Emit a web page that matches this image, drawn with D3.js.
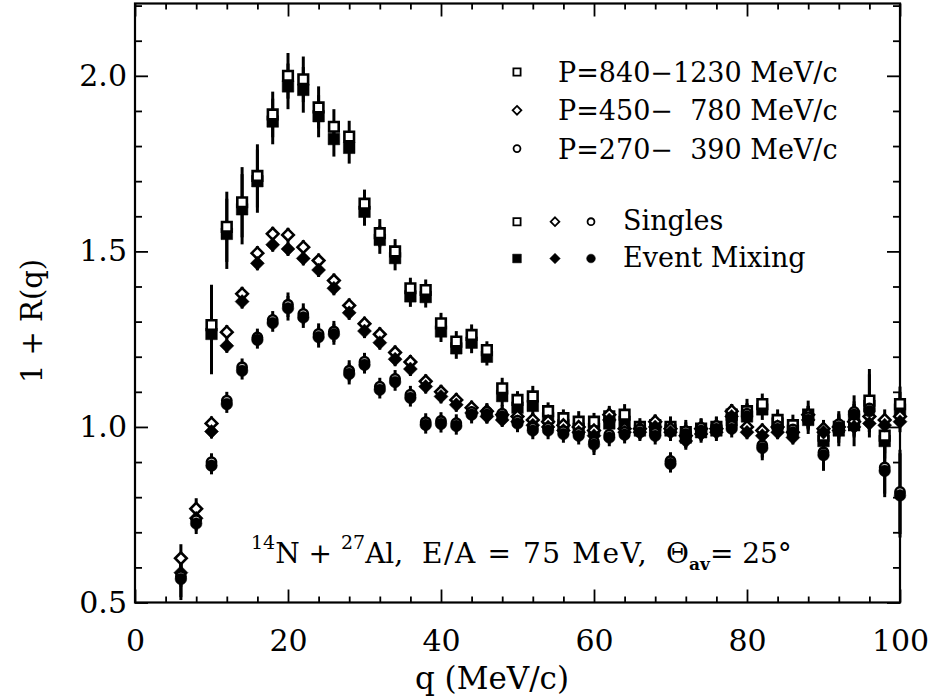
<!DOCTYPE html>
<html>
<head>
<meta charset="utf-8">
<script src="https://cdn.jsdelivr.net/npm/d3@7"></script>
<style>
  body { margin: 0; background: #fff; }
  text { font-family: "DejaVu Serif", serif; fill: #000; }
</style>
</head>
<body>
<div id="chart"></div>
<script>
// q bins (MeV/c)
const qValues = [6, 8, 10, 12, 14, 16, 18, 20, 22, 24, 26, 28, 30, 32, 34, 36, 38, 40, 42, 44, 46, 48, 50, 52,
                 54, 56, 58, 60, 62, 64, 66, 68, 70, 72, 74, 76, 78, 80, 82, 84, 86, 88, 90, 92, 94, 96, 98, 100];

// P = 840-1230 MeV/c (squares)
const squareSingles = [null, null, 1.29, 1.57, 1.64, 1.715, 1.89, 2.00, 1.99, 1.91, 1.855, 1.827, 1.636, 1.552, 1.50, 1.395, 1.39, 1.295, 1.243, 1.262, 1.219, 1.11, 1.077, 1.087,
                       1.045, 1.025, 1.015, 1.015, 1.03, 1.035, 1.0, 1.005, 1.0, 0.985, 0.995, 1.0, 1.035, 1.045, 1.065, 1.02, 1.005, 1.035, 0.975, 1.0, 1.005, 1.075, 0.975, 1.065];
const squareMixing = [null, null, 1.265, 1.55, 1.62, 1.70, 1.87, 1.97, 1.96, 1.885, 1.82, 1.795, 1.613, 1.533, 1.481, 1.372, 1.37, 1.272, 1.224, 1.24, 1.20, 1.088, 1.055, 1.06,
                      1.025, 1.005, 0.995, 0.995, 1.01, 1.015, 0.99, 0.99, 0.99, 0.97, 0.985, 0.99, 1.02, 1.03, 1.05, 1.01, 0.99, 1.02, 0.96, 0.99, 1.03, 1.06, 0.96, 1.05];
const squareErr = [null, null, 0.115, 0.10, 0.10, 0.09, 0.065, 0.065, 0.065, 0.06, 0.05, 0.045, 0.04, 0.04, 0.035, 0.03, 0.03, 0.03, 0.03, 0.03, 0.025, 0.03, 0.025, 0.03,
                   0.025, 0.025, 0.03, 0.025, 0.03, 0.03, 0.025, 0.03, 0.03, 0.035, 0.03, 0.03, 0.03, 0.035, 0.03, 0.03, 0.03, 0.04, 0.04, 0.045, 0.06, 0.09, 0.05, 0.05];

// P = 450-780 MeV/c (diamonds)
const diamondSingles = [0.626, 0.767, 1.01, 1.27, 1.379, 1.495, 1.55, 1.547, 1.512, 1.474, 1.417, 1.346, 1.294, 1.264, 1.212, 1.185, 1.13, 1.10, 1.077, 1.055, 1.045, 1.035, 1.03, 1.02,
                        1.015, 1.005, 1.0, 0.99, 1.035, 0.995, 0.995, 1.015, 0.995, 0.975, 0.995, 0.995, 1.045, 1.0, 0.99, 1.0, 0.985, 1.035, 0.995, 1.0, 1.015, 1.03, 1.02, 1.03];
const diamondMixing = [0.585, 0.74, 0.987, 1.231, 1.357, 1.466, 1.519, 1.507, 1.48, 1.447, 1.395, 1.325, 1.273, 1.24, 1.193, 1.165, 1.115, 1.087, 1.063, 1.04, 1.03, 1.02, 1.015, 1.005,
                       1.0, 0.99, 0.985, 0.975, 1.02, 0.985, 0.985, 1.0, 0.985, 0.96, 0.98, 0.985, 1.03, 0.985, 0.975, 0.985, 0.97, 1.02, 0.985, 0.99, 1.0, 1.01, 1.005, 1.015];
const diamondErr = [0.04, 0.03, 0.02, 0.02, 0.02, 0.02, 0.02, 0.02, 0.02, 0.02, 0.02, 0.02, 0.02, 0.02, 0.02, 0.02, 0.02, 0.02, 0.02, 0.02, 0.02, 0.02, 0.02, 0.02,
                    0.02, 0.02, 0.02, 0.02, 0.02, 0.02, 0.02, 0.02, 0.02, 0.02, 0.02, 0.02, 0.02, 0.02, 0.02, 0.02, 0.02, 0.025, 0.025, 0.025, 0.025, 0.025, 0.03, 0.03];

// P = 270-390 MeV/c (circles)
const circleSingles = [0.575, 0.735, 0.90, 1.075, 1.17, 1.255, 1.305, 1.348, 1.322, 1.265, 1.272, 1.16, 1.186, 1.115, 1.137, 1.092, 1.014, 1.017, 1.011, 1.043, 1.043, 1.038, 1.018, 0.998,
                       0.998, 0.988, 0.983, 0.958, 0.978, 0.986, 0.993, 0.983, 0.903, 0.988, 0.998, 1.003, 1.003, 1.038, 0.948, 1.003, 0.993, 1.028, 0.928, 1.008, 1.043, 1.053, 0.885, 0.815];
const circleMixing = [0.567, 0.725, 0.89, 1.065, 1.16, 1.248, 1.296, 1.338, 1.312, 1.256, 1.264, 1.151, 1.177, 1.106, 1.128, 1.083, 1.006, 1.009, 1.003, 1.035, 1.035, 1.03, 1.01, 0.99,
                      0.99, 0.98, 0.975, 0.95, 0.97, 0.978, 0.985, 0.975, 0.895, 0.98, 0.99, 0.995, 0.995, 1.03, 0.94, 0.995, 0.985, 1.02, 0.92, 1.0, 1.035, 1.045, 0.875, 0.805];
const circleErr = [0.06, 0.03, 0.025, 0.025, 0.025, 0.025, 0.025, 0.035, 0.03, 0.03, 0.03, 0.03, 0.025, 0.025, 0.025, 0.025, 0.025, 0.025, 0.025, 0.025, 0.025, 0.025, 0.025, 0.025,
                   0.025, 0.025, 0.025, 0.03, 0.025, 0.025, 0.025, 0.025, 0.025, 0.025, 0.025, 0.025, 0.025, 0.03, 0.035, 0.025, 0.025, 0.03, 0.045, 0.03, 0.03, 0.03, 0.075, 0.12];

// Axis ticks
const xMajorTicks = [0, 20, 40, 60, 80, 100];
const yMajorTicks = [0.5, 1.0, 1.5, 2.0];

const legendRanges = ["P=840\u22121230 MeV/c", "P=450\u2212\u2007780 MeV/c", "P=270\u2212\u2007390 MeV/c"];

// Dimensions
const width = 930, height = 698;

const svg = d3.select("#chart")
    .append("svg")
    .attr("width", width)
    .attr("height", height);

const xScale = d3.scaleLinear().domain([0, 100]).range([135, 900]);
const yScale = d3.scaleLinear().domain([0.5, 2.206]).range([602.5, 3.5]);

const [x0, x1] = xScale.range();
const [y0, y1] = yScale.range();

// Axes: ticks point inward on all four sides
const xMinor = d3.range(0, 101, 4).filter(v => v % 20 !== 0);
const yMinor = d3.range(0.6, 2.21, 0.1).filter(v => Math.abs(v * 2 - Math.round(v * 2)) > 0.01);

function styleAxis(g) {
    g.select(".domain").remove();
    g.selectAll(".tick line").attr("stroke", "#000").attr("stroke-width", 1.8);
    g.selectAll(".tick text").style("font-size", "30px").attr("fill", "#000");
}

svg.append("g")
    .attr("transform", `translate(0, ${y0})`)
    .call(d3.axisBottom(xScale).tickValues(xMajorTicks).tickSizeInner(-13).tickSizeOuter(0).tickPadding(27).tickFormat(d3.format("d")))
    .call(styleAxis);
svg.append("g")
    .attr("transform", `translate(0, ${y0})`)
    .call(d3.axisBottom(xScale).tickValues(xMinor).tickSizeInner(-6).tickSizeOuter(0).tickFormat(""))
    .call(styleAxis);
svg.append("g")
    .attr("transform", `translate(0, ${y1})`)
    .call(d3.axisTop(xScale).tickValues(xMajorTicks).tickSizeInner(-13).tickSizeOuter(0).tickFormat(""))
    .call(styleAxis);
svg.append("g")
    .attr("transform", `translate(0, ${y1})`)
    .call(d3.axisTop(xScale).tickValues(xMinor).tickSizeInner(-6).tickSizeOuter(0).tickFormat(""))
    .call(styleAxis);

svg.append("g")
    .attr("transform", `translate(${x0}, 0)`)
    .call(d3.axisLeft(yScale).tickValues(yMajorTicks).tickSizeInner(-13).tickSizeOuter(0).tickPadding(8).tickFormat(d3.format(".1f")))
    .call(styleAxis);
svg.append("g")
    .attr("transform", `translate(${x0}, 0)`)
    .call(d3.axisLeft(yScale).tickValues(yMinor).tickSizeInner(-7).tickSizeOuter(0).tickFormat(""))
    .call(styleAxis);
svg.append("g")
    .attr("transform", `translate(${x1}, 0)`)
    .call(d3.axisRight(yScale).tickValues(yMajorTicks).tickSizeInner(-13).tickSizeOuter(0).tickFormat(""))
    .call(styleAxis);
svg.append("g")
    .attr("transform", `translate(${x1}, 0)`)
    .call(d3.axisRight(yScale).tickValues(yMinor).tickSizeInner(-7).tickSizeOuter(0).tickFormat(""))
    .call(styleAxis);

// Frame
svg.append("rect")
    .attr("x", x0).attr("y", y1)
    .attr("width", x1 - x0).attr("height", y0 - y1)
    .attr("fill", "none").attr("stroke", "#000").attr("stroke-width", 2.2);

// Axis labels
svg.append("text")
    .attr("x", 492).attr("y", 689)
    .attr("text-anchor", "middle")
    .style("font-size", "31px")
    .text("q (MeV/c)");

svg.append("text")
    .attr("transform", "translate(42, 321) rotate(-90)")
    .attr("text-anchor", "middle")
    .style("font-size", "29px")
    .text("1 + R(q)");

// Build series table
const series = [
    { shape: "square", filled: true, values: squareMixing, err: squareErr },
    { shape: "square", filled: false, values: squareSingles, err: squareErr },
    { shape: "diamond", filled: false, values: diamondSingles, err: diamondErr },
    { shape: "diamond", filled: true, values: diamondMixing, err: diamondErr },
    { shape: "circle", filled: false, values: circleSingles, err: circleErr },
    { shape: "circle", filled: true, values: circleMixing, err: circleErr }
];

const points = series.map(s => qValues.map((q, i) => ({
    q: q, v: s.values[i], e: s.err[i], shape: s.shape, filled: s.filled
})).filter(d => d.v !== null));

const plot = svg.append("g");

// Error bars first
plot.selectAll(".err-bar")
    .data(points.flat())
    .join("line")
    .attr("class", "err-bar")
    .attr("x1", d => xScale(d.q))
    .attr("x2", d => xScale(d.q))
    .attr("y1", d => yScale(d.v - d.e))
    .attr("y2", d => yScale(d.v + d.e))
    .attr("stroke", "#000")
    .attr("stroke-width", 3);

function markerPath(shape, filled, scale) {
    const k = scale || 1;
    if (shape === "square") {
        const h = (filled ? 5.8 : 4.8) * k;
        return `M${-h},${-h}H${h}V${h}H${-h}Z`;
    }
    if (shape === "diamond") {
        const h = (filled ? 7 : 5.8) * k;
        return `M0,${-h}L${h},0L0,${h}L${-h},0Z`;
    }
    const r = (filled ? 5.8 : 4.6) * k;
    return `M${r},0A${r},${r} 0 1,1 ${-r},0A${r},${r} 0 1,1 ${r},0Z`;
}

points.forEach(pts => {
    plot.append("g")
        .selectAll("path")
        .data(pts)
        .join("path")
        .attr("transform", d => `translate(${xScale(d.q)}, ${yScale(d.v)})`)
        .attr("d", d => markerPath(d.shape, d.filled))
        .attr("fill", d => d.filled ? "#000" : "#fff")
        .attr("stroke", "#000")
        .attr("stroke-width", d => d.filled ? 0.5 : 2.6);
});

// Legend
const legend = svg.append("g");
const shapes = ["square", "diamond", "circle"];

legendRanges.forEach((label, i) => {
    const y = 72 + i * 38.3;
    legend.append("path")
        .attr("transform", `translate(517, ${y})`)
        .attr("d", markerPath(shapes[i], false, 0.75))
        .attr("fill", "#fff").attr("stroke", "#000").attr("stroke-width", 1.8);
    legend.append("text")
        .attr("x", 558).attr("y", y + 10)
        .style("font-size", "27px")
        .style("white-space", "pre")
        .text(label);
});

[["Singles", false, 221.7], ["Event Mixing", true, 258.5]].forEach(([label, filled, y]) => {
    [517, 555, 591].forEach((x, i) => {
        legend.append("path")
            .attr("transform", `translate(${x}, ${y})`)
            .attr("d", markerPath(shapes[i], filled, 0.75))
            .attr("fill", filled ? "#000" : "#fff")
            .attr("stroke", "#000").attr("stroke-width", filled ? 0.5 : 1.8);
    });
    legend.append("text")
        .attr("x", 623).attr("y", y + 8.5)
        .style("font-size", "27px")
        .text(label);
});

// Reaction annotation
const note1 = svg.append("text")
    .attr("x", 251).attr("y", 563)
    .style("font-size", "28px");
note1.append("tspan").style("font-size", "19px").attr("dy", -14).text("14");
note1.append("tspan").attr("dy", 14).text("N + ");
note1.append("tspan").style("font-size", "19px").attr("dy", -14).text("27");
note1.append("tspan").attr("dy", 14).text("Al,");

svg.append("text")
    .attr("x", 422).attr("y", 563)
    .style("font-size", "28px")
    .style("letter-spacing", "1.6px")
    .text("E/A = 75 MeV,");

const note3 = svg.append("text")
    .attr("x", 666).attr("y", 563)
    .style("font-size", "28px");
note3.append("tspan").text("\u0398");
note3.append("tspan").style("font-size", "17px").style("font-weight", "bold").attr("dy", 7).text("av");
note3.append("tspan").attr("dy", -7).text("= 25\u00b0");
</script>
</body>
</html>
